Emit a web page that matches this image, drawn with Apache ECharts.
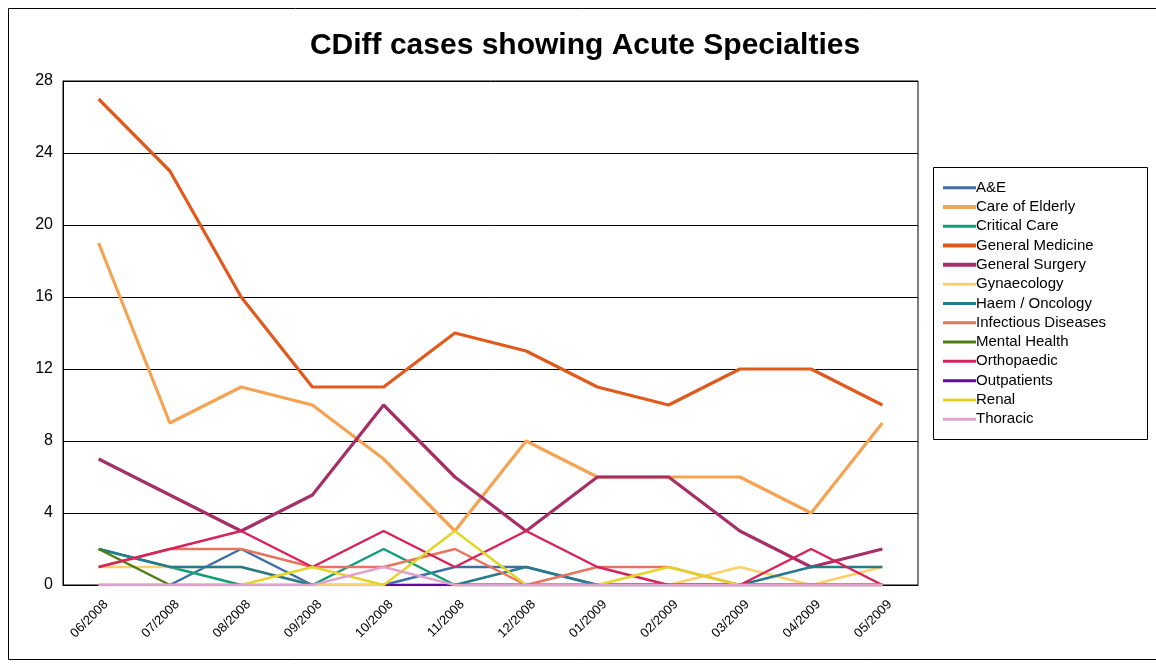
<!DOCTYPE html>
<html>
<head>
<meta charset="utf-8">
<script src="https://cdn.jsdelivr.net/npm/echarts@6/dist/echarts.min.js"></script>
<style>
html,body{margin:0;padding:0;background:#fff;}
#chart{width:1156px;height:665px;}
</style>
</head>
<body>
<div id="chart"></div>
<script>
var categories = ['06/2008','07/2008','08/2008','09/2008','10/2008','11/2008','12/2008','01/2009','02/2009','03/2009','04/2009','05/2009'];
var yTicks = [0, 4, 8, 12, 16, 20, 24, 28];

var aAndE            = [0, 0, 2, 0, 0, 1, 1, 0, 0, 0, 0, 0];
var careOfElderly    = [19, 9, 11, 10, 7, 3, 8, 6, 6, 6, 4, 9];
var criticalCare     = [2, 1, 0, 0, 2, 0, 0, 0, 0, 0, 0, 0];
var generalMedicine  = [27, 23, 16, 11, 11, 14, 13, 11, 10, 12, 12, 10];
var generalSurgery   = [7, 5, 3, 5, 10, 6, 3, 6, 6, 3, 1, 2];
var gynaecology      = [1, 1, 1, 0, 0, 0, 0, 0, 0, 1, 0, 1];
var haemOncology     = [2, 1, 1, 0, null, 0, 1, 0, 0, 0, 1, 1];
var infectious       = [1, 2, 2, 1, 1, 2, 0, 1, 1, 0, 0, 0];
var mentalHealth     = [2, 0, 0, null, null, 0, 0, 0, 0, 0, 0, 0];
var orthopaedic      = [1, 2, 3, 1, 3, 1, 3, 1, 0, 0, 2, 0];
var outpatients      = [null, null, null, null, 0, 0, 0, 0, 0, 0, 0, 0];
var renal            = [0, 0, 0, 1, 0, 3, 0, 0, 1, 0, 0, 0];
var thoracic         = [0, 0, 0, 0, 1, 0, 0, 0, 0, 0, 0, 0];

var seriesDefs = [
  ['A&E', aAndE, '#3d6fa5', 2.5],
  ['Care of Elderly', careOfElderly, '#f4a352', 3.2],
  ['Critical Care', criticalCare, '#109e78', 2.5],
  ['General Medicine', generalMedicine, '#e05a1e', 3.2],
  ['General Surgery', generalSurgery, '#a52f66', 3.2],
  ['Gynaecology', gynaecology, '#ffd06a', 2.5],
  ['Haem / Oncology', haemOncology, '#267a8c', 2.5],
  ['Infectious Diseases', infectious, '#e8735e', 2.5],
  ['Mental Health', mentalHealth, '#4e7d14', 2.5],
  ['Orthopaedic', orthopaedic, '#d6245a', 2.5],
  ['Outpatients', outpatients, '#5b0ea0', 2.5],
  ['Renal', renal, '#e3d42a', 2.5],
  ['Thoracic', thoracic, '#e0a2cc', 2.5]
];

var chart = echarts.init(document.getElementById('chart'), null, {renderer: 'canvas'});
var FONT = 'Liberation Sans, Arial, sans-serif';

var option = {
  animation: false,
  backgroundColor: '#fff',
  title: {
    text: 'CDiff cases showing Acute Specialties',
    left: 580, top: 26, textAlign: 'center',
    textStyle: {fontFamily: FONT, fontSize: 30, fontWeight: 'bold', color: '#000'}
  },
  graphic: [
    {type: 'rect', shape: {x: 8.5, y: 8.5, width: 1160, height: 651}, style: {fill: 'none', stroke: '#000', lineWidth: 1}, z: 100},
    {type: 'rect', shape: {x: 933.5, y: 167.5, width: 214, height: 272}, style: {fill: 'none', stroke: '#000', lineWidth: 1}, z: 100}
  ],
  legend: {
    orient: 'vertical',
    left: 943, top: 178,
    itemWidth: 33, itemHeight: 12,
    itemGap: 0,
    padding: 0,
    itemStyle: {borderWidth: 0},
    textStyle: {fontFamily: FONT, fontSize: 15, color: '#000', lineHeight: 19.3, padding: [0, 0, 0, -5]},
    data: seriesDefs.map(function (d) {
      var h = d[3] > 3 ? 4 : 3;
      return {name: d[0], icon: 'path://M0,0H33V' + h + 'H0Z'};
    })
  },
  grid: {
    left: 63, right: 238, top: 81, bottom: 80,
    show: true, borderColor: '#000', borderWidth: 1, backgroundColor: '#fff'
  },
  xAxis: {
    type: 'category',
    data: categories,
    boundaryGap: true,
    axisLine: {show: true, lineStyle: {color: '#000', width: 1}},
    axisTick: {show: false},
    axisLabel: {
      rotate: 45, interval: 0, margin: 10,
      verticalAlign: 'top', padding: [4, 0, 0, 0],
      fontFamily: FONT, fontSize: 13, color: '#000'
    }
  },
  yAxis: {
    type: 'value',
    min: yTicks[0], max: yTicks[yTicks.length - 1], interval: 4,
    axisLine: {show: true, lineStyle: {color: '#000', width: 1}},
    axisTick: {show: false},
    splitLine: {show: true, lineStyle: {color: '#000', width: 1}},
    axisLabel: {fontFamily: FONT, fontSize: 16, color: '#000', margin: 10}
  },
  series: seriesDefs.map(function (d) {
    return {
      name: d[0], type: 'line', data: d[1],
      symbol: 'none', showSymbol: false,
      connectNulls: false,
      color: d[2],
      lineStyle: {color: d[2], width: d[3]},
      emphasis: {disabled: true}
    };
  })
};
chart.setOption(option);
</script>
</body>
</html>
